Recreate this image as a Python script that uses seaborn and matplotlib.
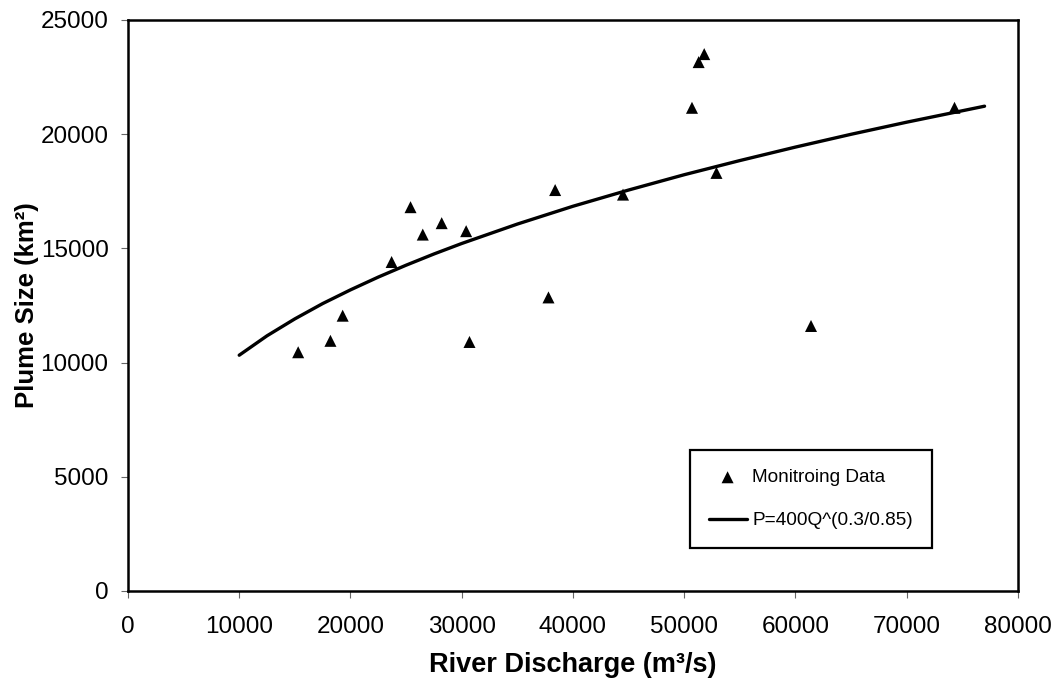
import matplotlib
matplotlib.use('Agg')
import matplotlib.pyplot as plt
import pandas as pd
import seaborn as sns

# monitoring data
discharge = [15300, 18200, 19300, 23700, 25400, 26500, 28200, 30400, 30700,
             37800, 38400, 44500, 50700, 51300, 51800, 52900, 61400, 74300]
plume = [10450, 10950, 12050, 14400, 16800, 15600, 16100, 15750, 10900,
         12850, 17550, 17350, 21150, 23150, 23500, 18300, 11600, 21150]

# fitted curve, points
curve_q = [10000, 12500, 15000, 17500, 20000, 22500, 25000, 27500, 30000,
           35000, 40000, 45000, 50000, 55000, 60000, 65000, 70000, 77000]
curve_p = [10320, 11170, 11910, 12580, 13180, 13740, 14260, 14750, 15210,
           16060, 16840, 17550, 18220, 18840, 19430, 19990, 20520, 21220]

data = pd.DataFrame({'q': discharge, 'p': plume})
curve = pd.DataFrame({'q': curve_q, 'p': curve_p})

sns.set_style('white')
plt.rcParams['font.family'] = ['Liberation Sans', 'DejaVu Sans']
plt.rcParams['text.color'] = 'black'
plt.rcParams['axes.labelcolor'] = 'black'

fig = plt.figure(figsize=(10.62, 6.84), dpi=100)
ax = fig.add_axes([0.1205, 0.136, 0.838, 0.835])

sns.scatterplot(x='q', y='p', data=data, marker='^', s=75, color='black',
                edgecolor='none', label='Monitroing Data', ax=ax)
sns.lineplot(x='q', y='p', data=curve, color='black', linewidth=2.4,
             label='P=400Q^(0.3/0.85)', ax=ax)

ax.set_xlim(0, 80000)
ax.set_ylim(0, 25000)
ax.set_xticks(range(0, 80001, 10000))
ax.set_yticks(range(0, 25001, 5000))
ax.tick_params(axis='both', which='major', labelsize=17.5, length=5, width=0.8,
               color='#666666', labelcolor='black', direction='out',
               bottom=True, left=True)
ax.tick_params(axis='x', pad=13)
ax.tick_params(axis='y', pad=9)

for sp in ax.spines.values():
    sp.set_linewidth(1.8)
    sp.set_color('black')

ax.set_xlabel('River Discharge (m³/s)', fontsize=19.5, fontweight='bold', labelpad=10)
ax.set_ylabel('Plume Size (km²)', fontsize=18.5, fontweight='bold', labelpad=1)

leg = ax.legend(loc='upper left', bbox_to_anchor=(0.631, 0.247), fontsize=13.7,
                frameon=True, fancybox=False, edgecolor='black', framealpha=1,
                borderpad=1.0, labelspacing=1.35, handlelength=2.0,
                handletextpad=0.3, borderaxespad=0)
leg.get_frame().set_linewidth(1.6)

fig.savefig('out.png', dpi=100)
